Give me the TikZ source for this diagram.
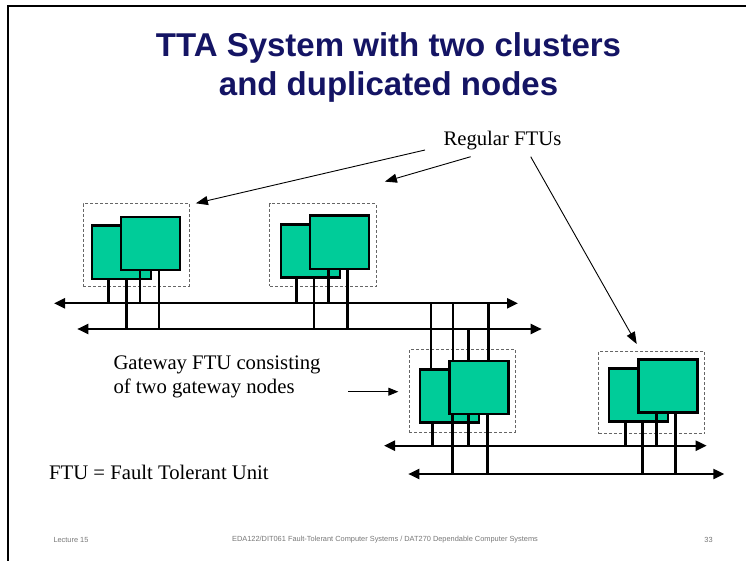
\documentclass[tikz,border=0pt]{standalone}
\usepackage{fontspec}
\setmainfont{Liberation Serif}
\newfontfamily\sansfont{Liberation Sans}
\usetikzlibrary{arrows.meta}
\definecolor{ftugreen}{RGB}{0,204,153}
\definecolor{titleblue}{RGB}{20,20,100}
\definecolor{footgray}{RGB}{120,120,120}

% a node of a fault tolerant unit: name, top-left x, top-left y
\newcommand\unitnode[3]{\node[unitbox] (#1) at (#2,#3) {};}
% dashed frame round one FTU: name, x1, y1, x2, y2
\newcommand\ftuframe[5]{\node[ftubox, minimum width={(#4-#2)*1pt}, minimum height={(#5-#3)*1pt}] (#1) at (#2,#3) {};}

\begin{document}
\begin{tikzpicture}[x=1pt,y=-1pt,
  unitbox/.style={draw=black, line width=2.6pt, fill=ftugreen, inner sep=0pt,
    anchor=north west, minimum width=59pt, minimum height=53pt},
  ftubox/.style={draw=black!60, line width=0.9pt, dash pattern=on 3pt off 2pt,
    inner sep=0pt, anchor=north west},
  bus/.style={line width=2.2pt,
    {Triangle[length=11pt,width=10pt]}-{Triangle[length=11pt,width=10pt]}},
  leg/.style={line width=2.8pt},
  thinleg/.style={line width=2pt},
  pointer/.style={line width=0.9pt, -{Triangle[length=12pt,width=9pt]}},
  label/.style={font=\fontsize{20.7}{23.5}\selectfont, inner sep=0pt},
  headline/.style={font=\sansfont\bfseries\fontsize{33}{39}\selectfont, text=titleblue,
    inner sep=0pt, anchor=base},
  foot/.style={font=\sansfont\fontsize{7.4}{9}\selectfont, text=footgray, inner sep=0pt},
]
\fill[white] (0,0) rectangle (746,561);
\useasboundingbox (0,0) rectangle (746,561);

% slide frame
\draw[line width=2pt] (8,561) -- (8,6) -- (746,6);

% title
\node[headline] (title1) at (388.5,56.5) {TTA System with two clusters};
\node[headline] (title2) at (388.5,95.5) {and duplicated nodes};

% ---------------- cluster A buses ----------------
\coordinate (aL1) at (54,303.3);   \coordinate (aR1) at (518,303.3);
\coordinate (aL2) at (77.3,329);   \coordinate (aR2) at (541.7,329);
\draw[bus] (aL1) -- (aR1);
\draw[bus] (aL2) -- (aR2);

% ---------------- cluster B buses ----------------
\coordinate (bL1) at (384,445.7);  \coordinate (bR1) at (706.7,445.7);
\coordinate (bL2) at (408.3,474);  \coordinate (bR2) at (724.3,474);
\draw[bus] (bL1) -- (bR1);
\draw[bus] (bL2) -- (bR2);

% ---------------- regular FTU 1 ----------------
\ftuframe{f1}{82.7}{203.3}{189}{285.7}
\unitnode{f1b}{90.5}{224.5}
\draw[leg] (108.3,0 |- f1b.south) -- (108.3,0 |- aL1);
\draw[leg] (126.7,0 |- f1b.south) -- (126.7,0 |- aL2);
\draw[leg] (140,0 |- f1b.north) -- (140,0 |- aL1);
\draw[leg] (159,0 |- f1b.north) -- (159,0 |- aL2);
\unitnode{f1a}{119.8}{215.8}

% ---------------- regular FTU 2 ----------------
\ftuframe{f2}{269.3}{203.3}{375.7}{285.7}
\unitnode{f2b}{279.5}{223.2}
\draw[leg] (296.7,0 |- f2b.south) -- (296.7,0 |- aL1);
\draw[leg] (314,0 |- f2b.south) -- (314,0 |- aL2);
\draw[leg] (328.3,0 |- f2b.north) -- (328.3,0 |- aL1);
\draw[leg] (347.3,0 |- f2b.north) -- (347.3,0 |- aL2);
\unitnode{f2a}{308.8}{214.5}

% ---------------- gateway FTU ----------------
\ftuframe{gw}{409}{349.3}{515}{431.7}
\unitnode{gwb}{418.8}{368.2}
\draw[thinleg] (430.7,0 |- aL1) -- (430.7,0 |- gwb.north);
\draw[thinleg] (452.7,0 |- aL1) -- (452.7,0 |- gwb.north);
\draw[leg] (468.3,0 |- aL2) -- (468.3,0 |- gwb.north);
\draw[leg] (488.3,0 |- aL1) -- (488.3,0 |- gwb.north);
\draw[leg] (432.3,0 |- gwb.south) -- (432.3,0 |- bL1);
\draw[leg] (452.7,0 |- gwb.north) -- (452.7,0 |- bL2);
\draw[leg] (468.3,0 |- gwb.north) -- (468.3,0 |- bL1);
\draw[leg] (487.3,0 |- gwb.north) -- (487.3,0 |- bL2);
\unitnode{gwa}{448.2}{359.5}

% ---------------- regular FTU 3 ----------------
\ftuframe{f3}{598.3}{350.7}{704.3}{433.3}
\unitnode{f3b}{607.8}{367.2}
\draw[leg] (625.7,0 |- f3b.south) -- (625.7,0 |- bL1);
\draw[leg] (642.3,0 |- f3b.south) -- (642.3,0 |- bL2);
\draw[leg] (656.7,0 |- f3b.north) -- (656.7,0 |- bL1);
\draw[leg] (675.3,0 |- f3b.north) -- (675.3,0 |- bL2);
\unitnode{f3a}{637.2}{358.2}

% ---------------- labels ----------------
\node[label, anchor=base west] (reg) at (443.3,146) {Regular FTUs};
\coordinate (r1) at (425,150);
\coordinate (r2) at (470.7,156.7);
\coordinate (r3) at (530.7,156.7);
\draw[pointer] (r1) -- ([shift={(6,0)}]f1.north east);
\draw[pointer] (r2) -- ([shift={(8.3,-21.7)}]f2.north east);
\draw[pointer] (r3) -- ([shift={(38.4,-6.7)}]f3.north west);

\node[label, anchor=base west, align=left] (gwtext) at (113.3,393.3)
  {Gateway FTU consisting\\of two gateway nodes};
\coordinate (g0) at (348.3,391.7);
\draw[pointer, -{Triangle[length=10pt,width=8pt]}] (g0) -- ([xshift=-10.7pt]gw.west |- g0);

\node[label, anchor=base west] (legend) at (49,479.3) {FTU = Fault Tolerant Unit};

% ---------------- footer ----------------
\node[foot, anchor=west] (lec) at (53.3,540) {Lecture 15};
\node[foot] (course) at (385,540)
  {EDA122/DIT061 Fault-Tolerant Computer Systems / DAT270 Dependable Computer Systems};
\node[foot] (page) at (708.5,540) {33};
\end{tikzpicture}
\end{document}
